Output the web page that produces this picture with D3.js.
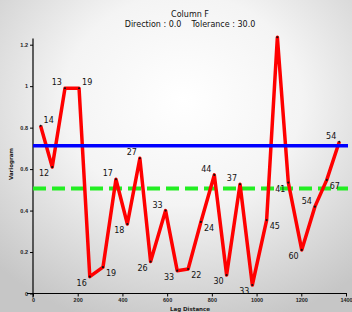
<!DOCTYPE html>
<html>
  <head>
    <title>Variogram</title>
    <script src="https://d3js.org/d3.v7.min.js"></script>
    <style>
      body { margin: 0; }
      svg { display: block; font-family: "DejaVu Sans", sans-serif; }
      .axis .tick line { stroke: #000; stroke-width: 1px; }
      .axis .tick text { font-size: 5.5px; font-weight: bold; fill: #222; }
      .axis .domain { display: none; }
      .title { font-size: 8px; text-anchor: middle; fill: #111; }
      .axis__label { font-size: 5.5px; font-weight: bold; text-anchor: middle; fill: #222; }
      .pt-label { font-size: 8px; fill: #111; }
    </style>
  </head>
  <body>
    <svg width="352" height="312"></svg>
    <script>
      // lag distance, variogram value, number of pairs
      const lags = [34, 86, 143, 206, 254, 313, 371, 422, 478, 526, 593, 645, 694,
                    751, 811, 866, 926, 981, 1045, 1093, 1142, 1202, 1261, 1314, 1370];
      const gammas = [0.809, 0.610, 0.990, 0.990, 0.081, 0.127, 0.551, 0.335, 0.652,
                      0.154, 0.400, 0.110, 0.118, 0.345, 0.572, 0.089, 0.527, 0.041,
                      0.354, 1.236, 0.535, 0.210, 0.419, 0.548, 0.732];
      const pairs = ["14", "12", "13", "19", "16", "19", "17", "18", "27", "26", "33", "33", "22",
                     "24", "44", "30", "37", "33", "45", "", "41", "60", "54", "67", "54"];
      const sill = 0.713;
      const modelSill = 0.507;
      const xTicks = [0, 200, 400, 600, 800, 1000, 1200, 1400];
      const yTicks = [0, 0.2, 0.4, 0.6, 0.8, 1, 1.2];

      // where each pair count sits around its point
      const labelSide = ["ra", "lb", "la", "ra", "lb", "rb", "la", "lb", "la", "lb", "la", "lb", "rb",
                         "rb", "la", "lb", "la", "lb", "rb", "la", "lb", "lb", "la", "rb", "la"];

      const svg = d3.select("svg");
      const width = +svg.attr("width");
      const height = +svg.attr("height");

      const defs = svg.append("defs");
      const grad = defs.append("radialGradient")
        .attr("id", "bg")
        .attr("cx", "52%").attr("cy", "32%").attr("r", "75%");
      grad.append("stop").attr("offset", "0%").attr("stop-color", "#ffffff");
      grad.append("stop").attr("offset", "45%").attr("stop-color", "#f4f4f4");
      grad.append("stop").attr("offset", "100%").attr("stop-color", "#c6c6c6");
      svg.append("rect").attr("width", width).attr("height", height).attr("fill", "url(#bg)");

      const xScale = d3.scaleLinear().domain([0, 1400]).range([33, 346]);
      const yScale = d3.scaleLinear().domain([0, 1.2]).range([293.5, 44.7]);

      svg.append("text").attr("class", "title")
        .attr("x", 190).attr("y", 16.5).text("Column F");
      svg.append("text").attr("class", "title")
        .attr("x", 190).attr("y", 26.5)
        .attr("xml:space", "preserve")
        .text("Direction : 0.0    Tolerance : 30.0");

      svg.append("g").attr("class", "axis")
        .attr("transform", `translate(0, ${yScale(0)})`)
        .call(d3.axisBottom(xScale).tickValues(xTicks).tickSize(3).tickPadding(2)
          .tickFormat(d3.format("d")));
      svg.append("g").attr("class", "axis")
        .attr("transform", `translate(${xScale(0)}, 0)`)
        .call(d3.axisLeft(yScale).tickValues(yTicks).tickSize(3).tickPadding(2)
          .tickFormat(d3.format("")));

      svg.append("line")
        .attr("x1", xScale(0) - 6).attr("x2", xScale(1400) + 1)
        .attr("y1", yScale(0)).attr("y2", yScale(0))
        .attr("stroke", "#000").attr("stroke-width", 1.2);
      svg.append("line")
        .attr("x1", xScale(0)).attr("x2", xScale(0))
        .attr("y1", yScale(0) + 4).attr("y2", yScale(1.23))
        .attr("stroke", "#000").attr("stroke-width", 1.2);

      svg.append("text").attr("class", "axis__label")
        .attr("x", 190).attr("y", 311).text("Lag Distance");
      svg.append("text").attr("class", "axis__label")
        .attr("transform", `translate(13, 164) rotate(-90)`)
        .text("Variogram");

      svg.append("line")
        .attr("x1", xScale(0)).attr("x2", xScale(1400) + 2)
        .attr("y1", yScale(modelSill)).attr("y2", yScale(modelSill))
        .attr("stroke", "#22ee22").attr("stroke-width", 4)
        .attr("stroke-dasharray", "13,6");

      const data = lags.map((d, i) => ({lag: d, gamma: gammas[i], n: pairs[i], side: labelSide[i]}));

      const line = d3.line()
        .x(d => xScale(d.lag))
        .y(d => yScale(d.gamma));

      svg.append("path")
        .datum(data)
        .attr("d", line)
        .attr("fill", "none")
        .attr("stroke", "#ff0000")
        .attr("stroke-width", 3.5)
        .attr("stroke-linejoin", "round");

      svg.append("line")
        .attr("x1", xScale(0)).attr("x2", xScale(1400) + 2)
        .attr("y1", yScale(sill)).attr("y2", yScale(sill))
        .attr("stroke", "#0000ff").attr("stroke-width", 3.5);

      svg.selectAll("circle.pt").data(data).enter().append("circle")
        .attr("class", "pt")
        .attr("cx", d => xScale(d.lag))
        .attr("cy", d => yScale(d.gamma))
        .attr("r", 1.1)
        .attr("fill", "#111");

      svg.selectAll("text.pt-label").data(data).enter().append("text")
        .attr("class", "pt-label")
        .attr("x", d => xScale(d.lag) + (d.side[0] === "l" ? -3 : 3))
        .attr("y", d => yScale(d.gamma) + (d.side[1] === "a" ? -3 : 9))
        .attr("text-anchor", d => d.side[0] === "l" ? "end" : "start")
        .text(d => d.n);
    </script>
  </body>
</html>
